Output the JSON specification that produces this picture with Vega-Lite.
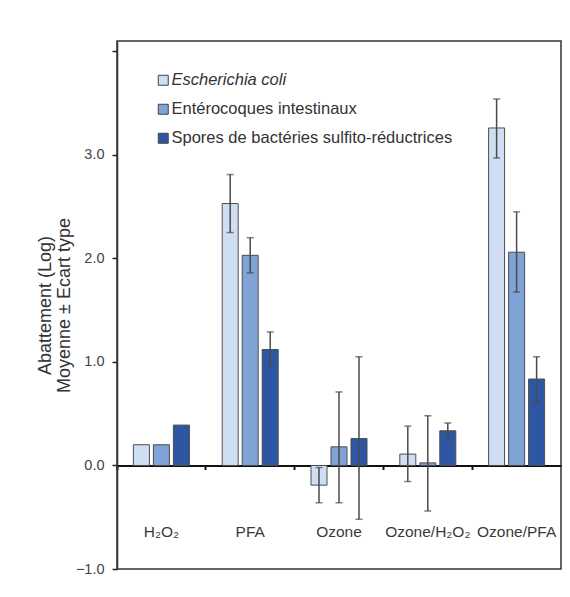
{
  "$schema": "https://vega.github.io/schema/vega-lite/v6.json",
  "autosize": "none",
  "width": 444,
  "height": 528,
  "padding": {"left": 117, "top": 41, "right": 9, "bottom": 28},
  "background": "white",
  "config": {
    "font": "Liberation Sans",
    "view": {"stroke": "#333333", "strokeWidth": 1.5},
    "axis": {"labelColor": "#444444", "titleColor": "#333333", "labelFont": "Liberation Sans", "titleFont": "Liberation Sans"}
  },
  "data": {
    "values": [
      {"traitement": "H₂O₂", "organisme": "Escherichia coli", "abattement": 0.2, "lo": null, "hi": null},
      {"traitement": "H₂O₂", "organisme": "Entérocoques intestinaux", "abattement": 0.2, "lo": null, "hi": null},
      {"traitement": "H₂O₂", "organisme": "Spores de bactéries sulfito-réductrices", "abattement": 0.39, "lo": null, "hi": null},
      {"traitement": "PFA", "organisme": "Escherichia coli", "abattement": 2.53, "lo": 2.25, "hi": 2.81},
      {"traitement": "PFA", "organisme": "Entérocoques intestinaux", "abattement": 2.03, "lo": 1.86, "hi": 2.2},
      {"traitement": "PFA", "organisme": "Spores de bactéries sulfito-réductrices", "abattement": 1.12, "lo": 0.955, "hi": 1.29},
      {"traitement": "Ozone", "organisme": "Escherichia coli", "abattement": -0.19, "lo": -0.36, "hi": -0.02},
      {"traitement": "Ozone", "organisme": "Entérocoques intestinaux", "abattement": 0.18, "lo": -0.36, "hi": 0.71},
      {"traitement": "Ozone", "organisme": "Spores de bactéries sulfito-réductrices", "abattement": 0.26, "lo": -0.52, "hi": 1.05},
      {"traitement": "Ozone/H₂O₂", "organisme": "Escherichia coli", "abattement": 0.11, "lo": -0.155, "hi": 0.38},
      {"traitement": "Ozone/H₂O₂", "organisme": "Entérocoques intestinaux", "abattement": 0.025, "lo": -0.44, "hi": 0.48},
      {"traitement": "Ozone/H₂O₂", "organisme": "Spores de bactéries sulfito-réductrices", "abattement": 0.335, "lo": 0.26, "hi": 0.41},
      {"traitement": "Ozone/PFA", "organisme": "Escherichia coli", "abattement": 3.26, "lo": 2.97, "hi": 3.54},
      {"traitement": "Ozone/PFA", "organisme": "Entérocoques intestinaux", "abattement": 2.06, "lo": 1.675, "hi": 2.45},
      {"traitement": "Ozone/PFA", "organisme": "Spores de bactéries sulfito-réductrices", "abattement": 0.835, "lo": 0.62, "hi": 1.05}
    ]
  },
  "encoding": {
    "x": {
      "field": "traitement",
      "type": "nominal",
      "sort": ["H₂O₂", "PFA", "Ozone", "Ozone/H₂O₂", "Ozone/PFA"],
      "scale": {"paddingInner": 0, "paddingOuter": 0},
      "axis": {
        "title": null,
        "labelAngle": 0,
        "offset": -103.5,
        "domainColor": "#111111",
        "domainWidth": 2,
        "tickColor": "#111111",
        "tickWidth": 2,
        "tickSize": 4,
        "bandPosition": 0,
        "labelPadding": 62,
        "labelBaseline": "middle",
        "labelFontSize": 15.5,
        "labelColor": "#3a3a3a",
        "encode": {"labels": {"update": {"dx": {"signal": "datum.value === 'Ozone' ? -17 : datum.value === 'Ozone/H₂O₂' ? 6 : datum.value === 'H₂O₂' ? -3 : 1"}}}}
      }
    },
    "xOffset": {
      "field": "organisme",
      "type": "nominal",
      "sort": ["Escherichia coli", "Entérocoques intestinaux", "Spores de bactéries sulfito-réductrices"],
      "scale": {"paddingInner": 0.2, "paddingOuter": 0.82}
    }
  },
  "layer": [
    {
      "mark": {"type": "bar", "stroke": "#4d4d4d", "strokeWidth": 1},
      "encoding": {
        "y": {
          "field": "abattement",
          "type": "quantitative",
          "scale": {"domain": [-1, 4.1], "nice": false, "zero": false},
          "axis": {
            "title": ["Abattement (Log)", "Moyenne ± Ecart type"],
            "titleFontSize": 18,
            "titleFontWeight": "normal",
            "titleLineHeight": 19,
            "titlePadding": 2,
            "values": [-1, 0, 1, 2, 3, 4],
            "labelExpr": "datum.value === 4 ? '' : format(datum.value, '.1f')",
            "labelFontSize": 14.5,
            "labelPadding": 8,
            "tickSize": 5,
            "tickColor": "#222222",
            "tickWidth": 1.5,
            "domainColor": "#333333",
            "domainWidth": 1.5,
            "grid": false
          }
        },
        "color": {
          "field": "organisme",
          "type": "nominal",
          "sort": ["Escherichia coli", "Entérocoques intestinaux", "Spores de bactéries sulfito-réductrices"],
          "scale": {
            "domain": ["Escherichia coli", "Entérocoques intestinaux", "Spores de bactéries sulfito-réductrices"],
            "range": ["#cfdef2", "#7fa2d7", "#2d57a4"]
          },
          "legend": {
            "title": null,
            "orient": "none",
            "legendX": 38,
            "legendY": 31,
            "padding": 0,
            "symbolType": "square",
            "symbolSize": 100,
            "symbolStrokeColor": "#444444",
            "symbolStrokeWidth": 1,
            "labelFontSize": 16.5,
            "labelColor": "#333333",
            "labelOffset": 0,
            "rowPadding": 12,
            "labelLimit": 400,
            "encode": {"labels": {"update": {"fontStyle": {"signal": "datum.value === 'Escherichia coli' ? 'italic' : 'normal'"}}}}
          }
        }
      }
    },
    {
      "transform": [{"filter": "isValid(datum.lo)"}],
      "mark": {"type": "rule", "color": "#4a4a4a", "strokeWidth": 1.5},
      "encoding": {
        "y": {"field": "lo", "type": "quantitative"},
        "y2": {"field": "hi"}
      }
    },
    {
      "transform": [{"filter": "isValid(datum.lo)"}],
      "mark": {"type": "tick", "color": "#4a4a4a", "thickness": 1.5, "size": 7},
      "encoding": {
        "y": {"field": "lo", "type": "quantitative"}
      }
    },
    {
      "transform": [{"filter": "isValid(datum.lo)"}],
      "mark": {"type": "tick", "color": "#4a4a4a", "thickness": 1.5, "size": 7},
      "encoding": {
        "y": {"field": "hi", "type": "quantitative"}
      }
    }
  ]
}
